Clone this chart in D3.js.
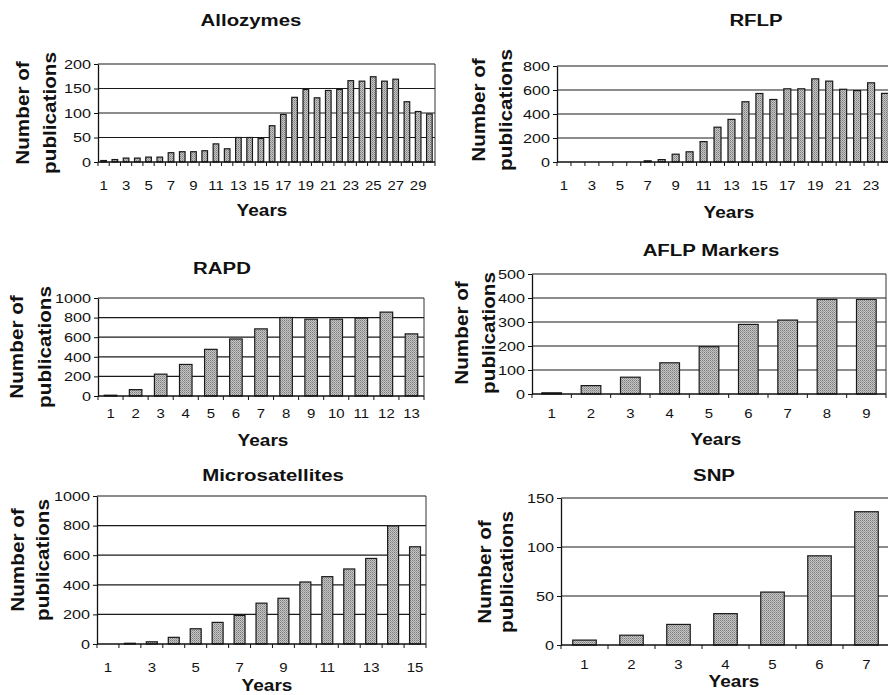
<!DOCTYPE html>
<html lang="en">
<head>
  <meta charset="UTF-8">
  <title>Publications by marker type</title>
  <script src="https://d3js.org/d3.v7.min.js"></script>
  <style>
    body { margin: 0; background: #fff; }
    text { font-family: "Liberation Sans", Arial, sans-serif; fill: #111; }
  </style>
</head>
<body>
  <div id="chart"></div>
  <script>
    // values, one array per panel
    const allozymes = [3, 5, 8, 8, 10, 10, 19, 21, 21, 23, 37, 27, 50, 50, 48, 74, 97, 132, 148, 131,
                       146, 148, 166, 165, 174, 165, 169, 123, 103, 98];
    const rflp = [0, 0, 0, 0, 0, 0, 10, 20, 65, 85, 170, 290, 355, 502, 571, 521, 610, 610, 693, 674,
                  606, 595, 660, 572];
    const rapd = [8, 65, 223, 322, 476, 582, 685, 801, 784, 784, 795, 856, 634];
    const aflp = [5, 35, 70, 130, 197, 290, 308, 394, 394];
    const microsat = [0, 5, 15, 45, 103, 146, 193, 276, 309, 419, 455, 507, 578, 798, 657];
    const snp = [5, 10, 21, 32, 54, 91, 136];

    const allozymeTicks = [0, 50, 100, 150, 200];
    const rflpTicks = [0, 200, 400, 600, 800];
    const rapdTicks = [0, 200, 400, 600, 800, 1000];
    const aflpTicks = [0, 100, 200, 300, 400, 500];
    const microTicks = [0, 200, 400, 600, 800, 1000];
    const snpTicks = [0, 50, 100, 150];

    const W = 888, H = 695;
    const svg = d3.select("#chart").append("svg")
      .attr("width", W)
      .attr("height", H);

    // halftone-ish grey like the scanned bars
    const pat = svg.append("defs").append("pattern")
      .attr("id", "dither")
      .attr("width", 2).attr("height", 2)
      .attr("patternUnits", "userSpaceOnUse");
    pat.append("rect").attr("width", 2).attr("height", 2).attr("fill", "#c6c6c6");
    pat.append("rect").attr("width", 1).attr("height", 1).attr("fill", "#7c7c7c");
    pat.append("rect").attr("x", 1).attr("y", 1).attr("width", 1).attr("height", 1).attr("fill", "#9a9a9a");

    const panels = [
      {title: "Allozymes", values: allozymes, ticks: allozymeTicks, every: 2,
       x0: 98, x1: 435, y0: 64, y1: 162, tx: 251, ty: 20, yrx: 262, yry: 210, lab: [23, 50], labY: 113, tickY: 185},
      {title: "RFLP", values: rflp, ticks: rflpTicks, every: 2,
       x0: 557, x1: 892, y0: 66, y1: 162, tx: 756, ty: 20, yrx: 729, yry: 212, lab: [479, 506], labY: 110, tickY: 185},
      {title: "RAPD", values: rapd, ticks: rapdTicks, every: 1,
       x0: 98, x1: 424, y0: 298, y1: 396, tx: 222, ty: 268, yrx: 263, yry: 440, lab: [17, 45], labY: 347, tickY: 413},
      {title: "AFLP Markers", values: aflp, ticks: aflpTicks, every: 1,
       x0: 532, x1: 886, y0: 274, y1: 394, tx: 711, ty: 250, yrx: 716, yry: 439, lab: [462, 489], labY: 333, tickY: 413},
      {title: "Microsatellites", values: microsat, ticks: microTicks, every: 2,
       x0: 97, x1: 426, y0: 496, y1: 644, tx: 273, ty: 475, yrx: 267, yry: 685, lab: [18, 43], labY: 560, tickY: 667},
      {title: "SNP", values: snp, ticks: snpTicks, every: 1,
       x0: 561, x1: 890, y0: 498, y1: 645, tx: 714, ty: 475, yrx: 734, yry: 681, lab: [485, 507], labY: 572, tickY: 664}
    ];

    panels.forEach(drawPanel);

    // the scan's lettering is wider than Arial, so stretch along the text direction
    function label(g, x, y, str, size, bold, sx, rot) {
      return g.append("text")
        .attr("transform", `translate(${x},${y})${rot ? " rotate(" + rot + ")" : ""} scale(${sx},1)`)
        .attr("dy", "0.35em")
        .attr("text-anchor", "middle")
        .style("font-size", size + "px")
        .style("font-weight", bold ? "bold" : "normal")
        .text(str);
    }

    function drawPanel(p) {
      const g = svg.append("g");
      const cats = p.values.map((d, i) => i + 1);
      const x = d3.scaleBand().domain(cats).range([p.x0, p.x1])
        .paddingInner(0.5).paddingOuter(0.25);
      const xb = d3.scaleLinear().domain([0, cats.length]).range([p.x0, p.x1]);
      const y = d3.scaleLinear().domain([0, d3.max(p.ticks)]).range([p.y1, p.y0]);

      // gridlines
      g.append("g").selectAll("line")
        .data(p.ticks.filter(t => t > 0))
        .join("line")
        .attr("x1", p.x0).attr("x2", p.x1)
        .attr("y1", d => y(d)).attr("y2", d => y(d))
        .attr("stroke", "#1a1a1a").attr("stroke-width", 1.2);

      // right border
      g.append("line")
        .attr("x1", p.x1).attr("x2", p.x1)
        .attr("y1", p.y0).attr("y2", p.y1)
        .attr("stroke", "#333").attr("stroke-width", 1);

      // bars
      g.append("g").selectAll("rect")
        .data(p.values)
        .join("rect")
        .attr("x", (d, i) => x(cats[i]))
        .attr("width", x.bandwidth())
        .attr("y", d => y(d))
        .attr("height", d => y(0) - y(d))
        .attr("fill", "url(#dither)")
        .attr("stroke", "#1a1a1a")
        .attr("stroke-width", 1.2);

      // y axis
      const ya = g.append("g")
        .attr("transform", `translate(${p.x0},0)`)
        .call(d3.axisLeft(y).tickValues(p.ticks).tickFormat(d3.format("d"))
          .tickSize(4).tickSizeOuter(0).tickPadding(3));
      ya.select(".domain").attr("stroke", "#111").attr("stroke-width", 1.3);
      ya.selectAll(".tick line").attr("stroke", "#111");
      ya.selectAll("text")
        .style("font-size", "13.5px").attr("fill", "#111")
        .attr("transform", function() {
          // stretch about the right edge so labels stay flush to the ticks
          const tx = +d3.select(this).attr("x");
          return `translate(${tx},0) scale(1.2,1) translate(${-tx},0)`;
        });

      // x axis: tick marks on band boundaries
      g.append("line")
        .attr("x1", p.x0).attr("x2", p.x1)
        .attr("y1", p.y1).attr("y2", p.y1)
        .attr("stroke", "#111").attr("stroke-width", 1.3);
      g.append("g").selectAll("line")
        .data(d3.range(0, cats.length + 1))
        .join("line")
        .attr("x1", d => xb(d)).attr("x2", d => xb(d))
        .attr("y1", p.y1).attr("y2", p.y1 + 4)
        .attr("stroke", "#111");

      // x tick labels
      cats.filter((c, i) => i % p.every === 0).forEach(c => {
        label(g, x(c) + x.bandwidth() / 2, p.tickY, c, 13, false, 1.15);
      });

      label(g, p.tx, p.ty, p.title, 17, true, 1.2);
      label(g, p.yrx, p.yry, "Years", 17, true, 1.12);
      label(g, p.lab[0], p.labY, "Number of", 18, true, 1.15, -90);
      label(g, p.lab[1], p.labY, "publications", 18, true, 1.15, -90);
    }
  </script>
</body>
</html>
